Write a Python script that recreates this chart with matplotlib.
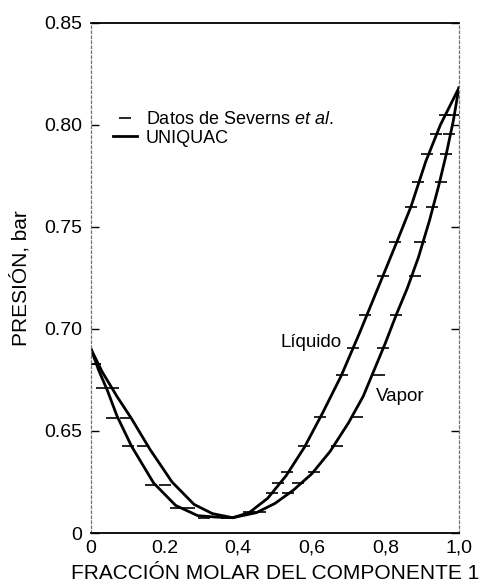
import numpy as np
import matplotlib.pyplot as plt
from matplotlib.ticker import FixedLocator, FixedFormatter

plt.rcParams['font.family'] = ['Liberation Sans', 'DejaVu Sans']
plt.rcParams['mathtext.fontset'] = 'custom'
plt.rcParams['mathtext.it'] = 'Liberation Sans:italic'
plt.rcParams['mathtext.rm'] = 'Liberation Sans'

# curvas UNIQUAC (x1, P en bar)
liq_x = [0.00, 0.03, 0.07, 0.11, 0.16, 0.22, 0.28, 0.33, 0.385, 0.43, 0.48, 0.53,
         0.58, 0.63, 0.68, 0.73, 0.78, 0.83, 0.87, 0.91, 0.95, 1.00]
liq_p = [0.690, 0.679, 0.667, 0.656, 0.641, 0.625, 0.614, 0.6095, 0.6075, 0.610, 0.617, 0.628,
         0.642, 0.659, 0.677, 0.698, 0.720, 0.742, 0.760, 0.782, 0.800, 0.818]

vap_x = [0.00, 0.02, 0.045, 0.07, 0.11, 0.17, 0.23, 0.29, 0.34, 0.385, 0.45, 0.50, 0.55,
         0.60, 0.65, 0.70, 0.74, 0.77, 0.80, 0.83, 0.86, 0.89, 0.92, 0.945, 0.965, 0.985, 1.00]
vap_p = [0.690, 0.680, 0.6695, 0.6575, 0.6425, 0.6245, 0.6135, 0.6085, 0.6078, 0.6075, 0.610,
         0.6145, 0.621, 0.629, 0.640, 0.654, 0.667, 0.680, 0.693, 0.707, 0.720, 0.735, 0.753,
         0.770, 0.785, 0.802, 0.818]

# datos experimentales (Severns et al.): presion, x liquido, y vapor
dat_p = [0.6826, 0.6711, 0.6564, 0.6425, 0.6235, 0.6125, 0.6072,
         0.6105, 0.6194, 0.6246, 0.6297, 0.6425, 0.6568, 0.6776, 0.6908, 0.7066,
         0.7257, 0.7424, 0.7595, 0.7717, 0.7856, 0.7955, 0.8050]
dat_x = [0.010, 0.060, 0.095, 0.140, 0.201, 0.266, 0.370,
         0.430, 0.492, 0.507, 0.534, 0.579, 0.622, 0.682, 0.712, 0.745,
         0.794, 0.826, 0.870, 0.889, 0.913, 0.937, 0.962]
dat_y = [0.010, 0.030, 0.057, 0.101, 0.163, 0.231, 0.307,
         0.460, 0.535, 0.563, 0.606, 0.668, 0.723, 0.782, 0.794, 0.830,
         0.882, 0.895, 0.927, 0.951, 0.965, 0.973, 0.984]

xticks = [0, 0.2, 0.4, 0.6, 0.8, 1.0]
xlabels = ['0', '0.2', '0,4', '0,6', '0,8', '1,0']
yticks = [0.60, 0.65, 0.70, 0.75, 0.80, 0.85]
ylabels = ['0', '0.65', '0.70', '0.75', '0.80', '0.85']

fig = plt.figure(figsize=(4.82, 5.88), dpi=100)
ax = fig.add_axes([0.189, 0.0935, 0.763, 0.868])

ax.plot(dat_x, dat_p, ls='none', marker='_', ms=9, mew=1.2, color='black',
        label='Datos de Severns $\\mathit{et\\ al.}$')
ax.plot(dat_y, dat_p, ls='none', marker='_', ms=9, mew=1.2, color='black')
ax.plot(liq_x, liq_p, color='black', lw=2.0, label='UNIQUAC')
ax.plot(vap_x, vap_p, color='black', lw=2.0)

ax.text(0.682, 0.6935, 'Líquido', fontsize=13.5, ha='right', va='center')
ax.text(0.774, 0.667, 'Vapor', fontsize=13.5, ha='left', va='center')

ax.set_xlim(0, 1.0)
ax.set_ylim(0.60, 0.85)
ax.xaxis.set_major_locator(FixedLocator(xticks))
ax.xaxis.set_major_formatter(FixedFormatter(xlabels))
ax.yaxis.set_major_locator(FixedLocator(yticks))
ax.yaxis.set_major_formatter(FixedFormatter(ylabels))
ax.tick_params(axis='y', direction='in', length=6, width=1, left=True, right=True,
               labelsize=14, pad=6.5)
ax.tick_params(axis='x', length=0, labelsize=14, pad=5)

ax.set_xlabel('FRACCIÓN MOLAR DEL COMPONENTE 1', fontsize=15, labelpad=5)
ax.set_ylabel('PRESIÓN, bar', fontsize=15, labelpad=10)

for s in ['left', 'right']:
    ax.spines[s].set_linestyle((0, (2, 2)))
    ax.spines[s].set_color('0.45')
    ax.spines[s].set_linewidth(0.9)
for s in ['top', 'bottom']:
    ax.spines[s].set_linewidth(1.3)

ax.legend(loc='upper left', bbox_to_anchor=(0.06, 0.827), frameon=False, fontsize=13,
          handlelength=1.3, handletextpad=0.5, labelspacing=0.1, borderpad=0,
          borderaxespad=0)

fig.savefig('out.png', dpi=100)
